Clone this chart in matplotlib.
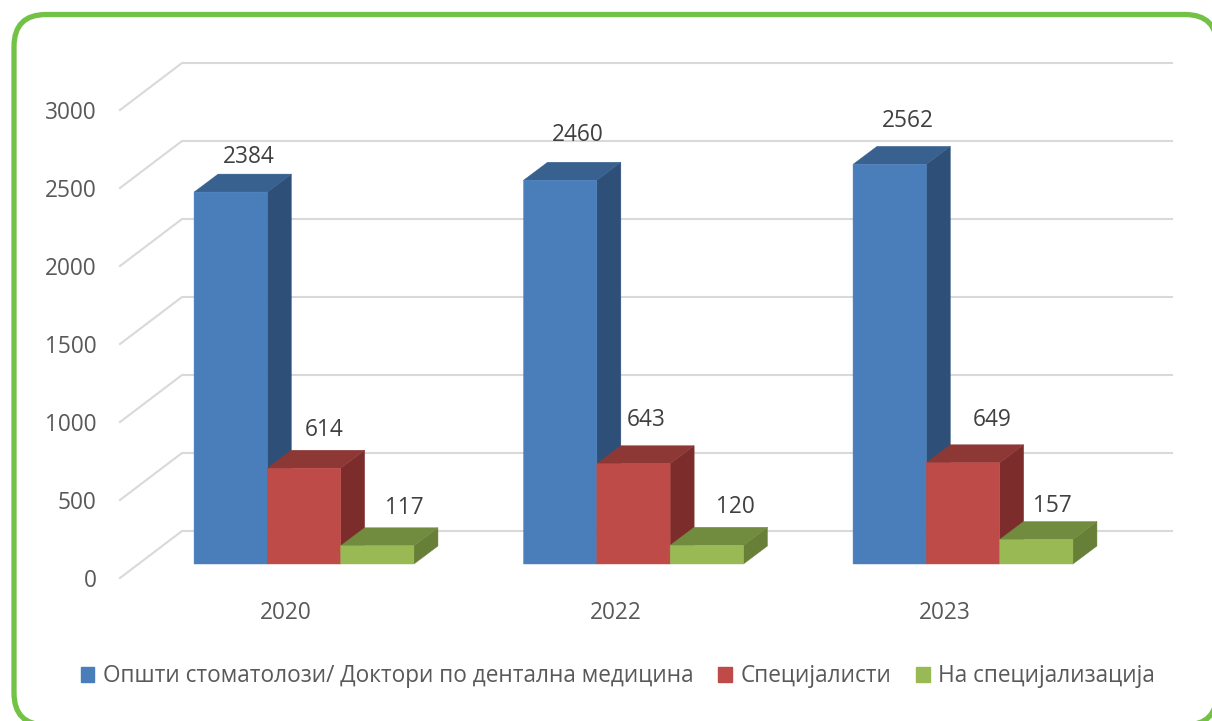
import matplotlib.pyplot as plt
from matplotlib.patches import FancyBboxPatch, Patch

# Data from the chart
years = ['2020', '2022', '2023']
ticks = [0, 500, 1000, 1500, 2000, 2500, 3000]
series_names = ['Општи стоматолози/ Доктори по дентална медицина', 'Специјалисти', 'На специјализација']
general = [2384, 2460, 2562]
specialists = [614, 643, 649]
trainees = [117, 120, 157]

W, H = 1212, 721
plt.rcParams['font.family'] = ['Open Sans', 'DejaVu Sans']
fig = plt.figure(figsize=(W / 100, H / 100), dpi=100)

# axes = front plane of the left wall, 120..1172 px across, value 0 at y=578, 3000 at y=110
ax = fig.add_axes([120 / W, 1 - 578 / H, 1052 / W, 468 / H])
ax.patch.set_alpha(0)
px_x = 329.5  # px per category
px_y = 468 / 3000  # px per value
ax.set_xlim((120 - 304) / px_x, (1172 - 304) / px_x)
ax.set_ylim(0, 3000)

# green card behind everything
card = FancyBboxPatch((14 / W, 1 - 725 / H), 1203 / W, 710.5 / H, boxstyle='round,pad=0,rounding_size=0.0265',
                      transform=fig.transFigure, fc='white', ec='#72C245', lw=3.8,
                      mutation_aspect=W / H, zorder=-1)
fig.patches.append(card)

# walls
wall_dx, wall_dy = 62 / px_x, 47 / px_y
left = ax.get_xlim()[0]
right = ax.get_xlim()[1]
for v in ticks:
    ax.plot([left, left + wall_dx, right], [v, v + wall_dy, v + wall_dy], color='#D9D9D9', lw=1.5,
            clip_on=False, zorder=1, solid_joinstyle='miter')

# bars
bar_w = 73.3 / px_x
depth_x, depth_y = 24 / px_x, 18 / px_y
floor = 14 / px_y
colors = [('#4A7EBB', '#38618F', '#2E5078'), ('#BE4B48', '#8E3836', '#7B2C2B'), ('#98B954', '#728C3F', '#677F37')]
label_dx = [[18, 20, 27], [18, 13, 29], [18, 29, 16]]
label_dy = [[35, 38, 38], [45, 44, 38], [43, 43, 34]]
all_series = [general, specialists, trainees]


def face(xs, ys, c):
    ax.fill(xs, ys, fc=c, ec=c, lw=0.3, clip_on=False, zorder=3, snap=False)


for s, values in enumerate(all_series):
    front, top, side = colors[s]
    for i, v in enumerate(values):
        x0 = i + (s - 1.5) * bar_w
        x1 = x0 + bar_w
        y0 = floor
        y1 = floor + v
        face([x1, x1 + depth_x, x1 + depth_x, x1], [y0, y0 + depth_y, y1 + depth_y, y1], side)
        face([x0, x1, x1 + depth_x, x0 + depth_x], [y1, y1, y1 + depth_y, y1 + depth_y], top)
        face([x0, x1, x1, x0], [y0, y0, y1, y1], front)
        ax.text(x0 + bar_w / 2 + label_dx[i][s] / px_x, y1 + label_dy[i][s] / px_y, str(v),
                ha='center', va='center', fontsize=16.3, color='#404040', zorder=4)

# axis labels
for sp in ax.spines.values():
    sp.set_visible(False)
ax.set_yticks(ticks)
ax.set_xticks([i - 18 / px_x for i in range(3)], years)
ax.tick_params(axis='y', length=0, pad=17, labelsize=16.3, labelcolor='#595959')
ax.tick_params(axis='x', length=0, pad=16.5, labelsize=16.3, labelcolor='#595959')

handles = [Patch(color=c[0]) for c in colors]
fig.legend(handles, series_names, loc='center', bbox_to_anchor=(618 / W, 1 - 676.5 / H), ncol=3, frameon=False,
           fontsize=16.3, labelcolor='#595959', handlelength=0.6, handleheight=0.6, handletextpad=0.38,
           columnspacing=1.1, borderpad=0)

plt.savefig('out.png', dpi=100)
